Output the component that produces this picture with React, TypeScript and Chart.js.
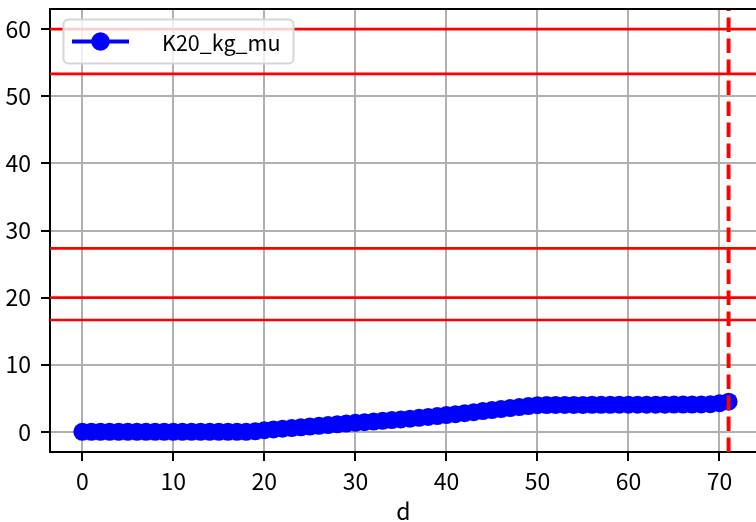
import React, { useEffect, useRef } from "react";
import { Chart, registerables } from "chart.js";
Chart.register(...registerables);

const days = [
  0, 1, 2, 3, 4, 5, 6, 7, 8, 9, 10, 11, 12, 13, 14, 15, 16, 17, 18, 19, 20, 21, 22, 23,
  24, 25, 26, 27, 28, 29, 30, 31, 32, 33, 34, 35, 36, 37, 38, 39, 40, 41, 42, 43, 44, 45, 46, 47,
  48, 49, 50, 51, 52, 53, 54, 55, 56, 57, 58, 59, 60, 61, 62, 63, 64, 65, 66, 67, 68, 69, 70, 71,
];
const k20 = [
  0, 0, 0, 0, 0, 0, 0, 0, 0, 0, 0, 0, 0, 0, 0, 0, 0, 0, 0, 0.08, 0.25, 0.36, 0.47, 0.57,
  0.68, 0.79, 0.9, 1.01, 1.12, 1.23, 1.34, 1.44, 1.54, 1.64, 1.75, 1.86, 1.97, 2.09, 2.22, 2.36, 2.5, 2.64, 2.79, 2.94, 3.09, 3.24, 3.39, 3.54,
  3.69, 3.84, 3.97, 4.0, 4.01, 4.01, 4.02, 4.02, 4.03, 4.03, 4.03, 4.04, 4.04, 4.04, 4.05, 4.05, 4.05, 4.06, 4.06, 4.07, 4.08, 4.12, 4.28, 4.5,
];
const seriesLabel = "K20_kg_mu";
const hLines = [60, 53.33, 27.33, 20, 16.67];
const vLine = 71;
const xTicks = [0, 10, 20, 30, 40, 50, 60, 70];
const yTicks = [0, 10, 20, 30, 40, 50, 60];
const xTitle = "d";
const xMin = -3.55;
const xMax = 74.12;
const yMin = -3;
const yMax = 63;

const FONT = "'Noto Sans CJK JP', 'DejaVu Sans', sans-serif";
const TICK_SIZE = 23;

export default function App() {
  const ref = useRef<HTMLCanvasElement | null>(null);
  useEffect(() => {
    if (!ref.current) return;
    const overlay = {
      id: "overlay",
      afterDraw(chart: any) {
        const { ctx, chartArea } = chart;
        ctx.save();
        // top spine
        ctx.strokeStyle = "#000";
        ctx.lineWidth = 2;
        ctx.beginPath();
        ctx.moveTo(chartArea.left - 1, chartArea.top);
        ctx.lineTo(chartArea.right, chartArea.top);
        ctx.stroke();
        // legend
        const bx = 63.5, by = 19.5, bw = 230, bh = 44;
        ctx.beginPath();
        (ctx as any).roundRect(bx, by, bw, bh, 5);
        ctx.fillStyle = "rgba(255,255,255,0.8)";
        ctx.fill();
        ctx.strokeStyle = "#d6d6d6";
        ctx.lineWidth = 2;
        ctx.stroke();
        const ly = by + bh / 2;
        ctx.strokeStyle = "#0000ff";
        ctx.lineWidth = 3.8;
        ctx.beginPath();
        ctx.moveTo(72, ly);
        ctx.lineTo(129, ly);
        ctx.stroke();
        ctx.fillStyle = "#0000ff";
        ctx.beginPath();
        ctx.arc(100.5, ly, 9.3, 0, Math.PI * 2);
        ctx.fill();
        ctx.fillStyle = "#000";
        ctx.font = `21.5px ${FONT}`;
        ctx.textBaseline = "middle";
        ctx.textAlign = "left";
        ctx.fillText(chart.data.datasets[chart.data.datasets.length - 1].label, 162, ly + 1);
        ctx.restore();
      },
    };

    const redSets = hLines.map((v) => ({
      label: "h" + v,
      data: [
        { x: xMin, y: v },
        { x: xMax, y: v },
      ],
      borderColor: "#ff0000",
      borderWidth: 2.6,
      pointRadius: 0,
      order: 0,
    }));

    const zeroPad = (s: any) => {
      s.paddingTop = 0;
      s.paddingBottom = 0;
      s.paddingLeft = 0;
      s.paddingRight = 0;
    };

    const chart = new Chart(ref.current, {
      type: "line",
      data: {
        datasets: [
          ...redSets,
          {
            label: "v" + vLine,
            data: [
              { x: vLine, y: yMin },
              { x: vLine, y: yMax },
            ],
            borderColor: "#ff0000",
            borderWidth: 3.9,
            borderDash: [14.5, 6.5],
            pointRadius: 0,
            order: 0,
          },
          {
            label: seriesLabel,
            data: days.map((d, i) => ({ x: d, y: k20[i] })),
            borderColor: "#0000ff",
            backgroundColor: "#0000ff",
            borderWidth: 3.8,
            pointRadius: 9,
            pointBorderWidth: 0,
            pointBackgroundColor: "#0000ff",
            order: 1,
          },
        ] as any,
      },
      options: {
        animation: false,
        responsive: false,
        devicePixelRatio: 1,
        layout: { padding: { top: 8, left: 0, right: 0, bottom: 0 } },
        plugins: { legend: { display: false }, tooltip: { enabled: false } },
        scales: {
          x: {
            type: "linear",
            min: xMin,
            max: xMax,
            afterBuildTicks: (s: any) => {
              s.ticks = xTicks.map((v) => ({ value: v }));
            },
            afterFit: (s: any) => {
              s.height = 70;
              zeroPad(s);
            },
            grid: {
              color: "#b0b0b0",
              lineWidth: 2,
              tickColor: "#000",
              tickLength: 9,
              tickWidth: 2,
            },
            border: { color: "#000", width: 2 },
            ticks: {
              color: "#000",
              font: { family: FONT, size: TICK_SIZE },
              padding: 6,
              maxRotation: 0,
              callback: (v: any) => String(v),
            },
            title: {
              display: true,
              text: xTitle,
              color: "#000",
              font: { family: FONT, size: TICK_SIZE },
              padding: { top: 0, bottom: -3 },
            },
          },
          y: {
            type: "linear",
            min: yMin,
            max: yMax,
            afterBuildTicks: (s: any) => {
              s.ticks = yTicks.map((v) => ({ value: v }));
            },
            afterFit: (s: any) => {
              s.width = 50;
              zeroPad(s);
            },
            grid: {
              color: "#b0b0b0",
              lineWidth: 2,
              tickColor: "#000",
              tickLength: 9,
              tickWidth: 2,
            },
            border: { color: "#000", width: 2 },
            ticks: {
              color: "#000",
              font: { family: FONT, size: TICK_SIZE },
              padding: 10,
              callback: (v: any) => String(v),
            },
          },
        },
      },
      plugins: [overlay],
    } as any);
    return () => chart.destroy();
  }, []);
  return (
    <div style={{ position: "absolute", left: 0, top: 0, width: 756, height: 522, background: "#fff", overflow: "hidden" }}>
      <canvas ref={ref} width={766} height={522} style={{ display: "block" }} />
    </div>
  );
}
